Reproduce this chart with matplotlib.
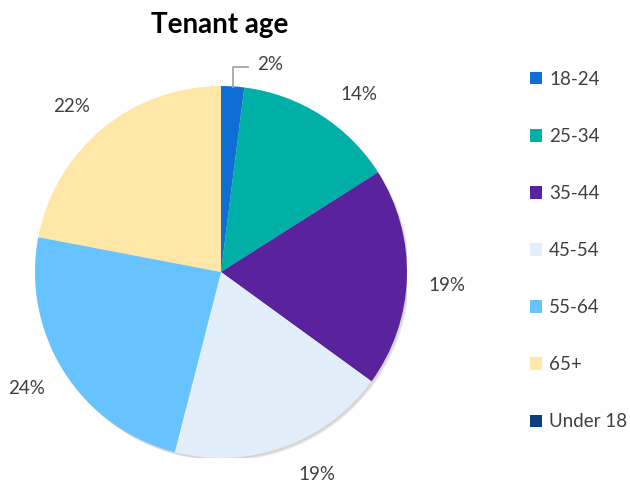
import matplotlib
matplotlib.use("Agg")
import matplotlib.pyplot as plt
from matplotlib.patches import Circle

plt.rcParams['font.family'] = ['Lato', 'DejaVu Sans']

# data
groups = ['18-24', '25-34', '35-44', '45-54', '55-64', '65+', 'Under 18']
shares = [2, 14, 19, 19, 24, 22, 0]
colors = ['#0F6ED6', '#00AFA5', '#5B229D', '#E2EEF9', '#66C3FF', '#FFE7A8', '#0B3F7E']

# label spots (pie radius = 1)
label_xy = [(0.263, 1.118), (0.742, 0.952), (1.215, -0.07),
            (0.516, -1.091), (-1.043, -0.624), (-0.806, 0.892), None]

txt = '#404040'

fig = plt.figure(figsize=(6.3, 4.83), dpi=100)
ax = fig.add_axes([35/630, 25/483, 372/630, 372/483])

# soft shadow
for k, a in enumerate([0.10, 0.10, 0.12]):
    ax.add_patch(Circle((0.006 + 0.004*k, -0.008 - 0.004*k), 1.0,
                        color='#707070', alpha=a, lw=0, zorder=0))

wedges, _ = ax.pie(shares, colors=colors, startangle=90, counterclock=False,
                   radius=1, wedgeprops=dict(linewidth=0))
for w in wedges:
    w.set_zorder(2)

ax.set_xlim(-1, 1)
ax.set_ylim(-1, 1)
ax.set_aspect('equal')
ax.axis('off')

for v, pos in zip(shares, label_xy):
    if pos is None or v == 0:
        continue
    ax.text(pos[0], pos[1], f'{v}%', ha='center', va='center',
            fontsize=13.5, color=txt, clip_on=False)

# leader line for the small slice
ax.plot([0.065, 0.065, 0.145], [0.995, 1.102, 1.102], color='#a6a6a6',
        lw=1.3, clip_on=False, zorder=3)

fig.text(220/630, 1 - 25/483, 'Tenant age', ha='center', va='center',
         fontsize=20, fontweight='bold', color='black')

fig.legend(wedges, groups, loc='upper left', bbox_to_anchor=(530/630, 1 - 71/483),
           frameon=False, fontsize=13.5, labelcolor=txt, handlelength=0.62,
           handleheight=0.62, handletextpad=0.4, labelspacing=2.135,
           borderaxespad=0, borderpad=0)

fig.savefig('out.png', dpi=100)
